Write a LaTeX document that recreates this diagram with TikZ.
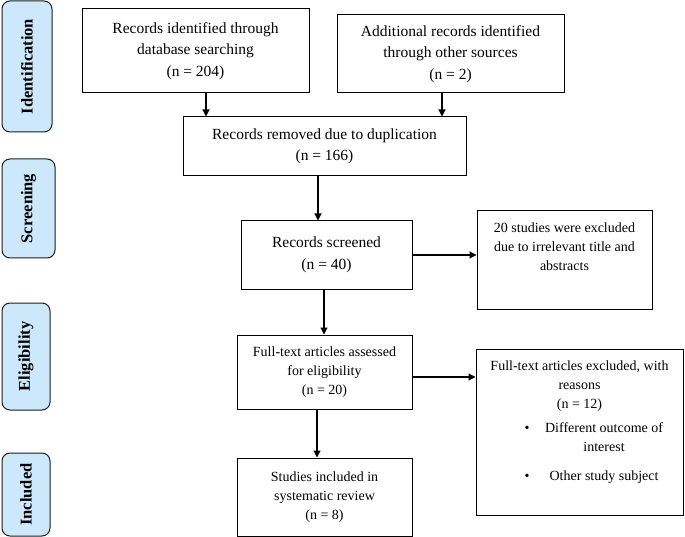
\documentclass[tikz,border=0pt]{standalone}
\usepackage{fontspec}
\setmainfont{Liberation Serif}
\usepackage{tikz}
\usetikzlibrary{positioning, arrows.meta, calc}
\definecolor{phaseblue}{HTML}{CDE8FB}
\definecolor{phaseline}{HTML}{1C1C1C}

\begin{document}
\begin{tikzpicture}[x=1pt, y=-1pt, >={Triangle[length=7pt,width=7pt]},
        phase/.style={draw=phaseline, fill=phaseblue, line width=1pt, rounded corners=8pt,
            inner sep=0pt, rotate=90, font=\fontsize{16.5}{18}\selectfont\bfseries},
        bigbox/.style={draw, line width=1pt, inner sep=0pt, align=center,
            font=\fontsize{15.5}{21.5}\selectfont},
        smallbox/.style={draw, line width=1pt, inner sep=0pt, align=center,
            font=\fontsize{14}{19}\selectfont},
        smalltext/.style={inner sep=0pt, align=center, font=\fontsize{14}{19}\selectfont},
        flow/.style={->, line width=1.2pt}]

        % Marco de la figura
        \useasboundingbox (0,0) rectangle (685,537);

        % Etiquetas de las fases (izquierda)
        \node[phase, minimum width=131, minimum height=50] (phase_ident) at (27,66.5) {Identification};
        \node[phase, minimum width=99, minimum height=53] (phase_screen) at (28.5,208.5) {Screening};
        \node[phase, minimum width=107, minimum height=48] (phase_elig) at (26,356.5) {Eligibility};
        \node[phase, minimum width=83, minimum height=48] (phase_incl) at (26,494.5) {Included};

        % Cajas de identificacion
        \node[bigbox, minimum width=227, minimum height=84] (box_ident) at (195.5,51)
            {Records identified through\\database searching\\(n = 204)};
        \node[bigbox, minimum width=227, minimum height=78] (box_other) at (450.5,54)
            {Additional records identified\\through other sources\\(n = 2)};
        \node[bigbox, minimum width=283, minimum height=59] (box_dup) at (324.5,146.5)
            {Records removed due to duplication\\(n = 166)};

        % Cribado
        \node[bigbox, minimum width=171, minimum height=68] (box_screen) at (326.5,255)
            {Records screened\\(n = 40)};
        \node[smallbox, minimum width=175, minimum height=98] (box_excl1) at (564.5,260) {};
        \node[smalltext, below=12.5pt of box_excl1.north] (excl1_text)
            {20 studies were excluded\\due to irrelevant title and\\abstracts};

        % Elegibilidad
        \node[smallbox, minimum width=175, minimum height=74] (box_full) at (324.5,372)
            {Full-text articles assessed\\for eligibility\\(n = 20)};
        \node[smallbox, minimum width=207, minimum height=166] (box_excl2) at (579.5,432) {};
        \node[smalltext, below=12.5pt of box_excl2.north] (excl2_head)
            {Full-text articles excluded, with\\reasons\\(n = 12)};
        \node[smalltext, anchor=north west] (excl2_list) at (524.5,419)
            {\begin{tabular}{@{}c@{\hspace{15.5pt}}c@{}}
                \textbullet & Different outcome of\\
                            & interest\\[10pt]
                \textbullet & Other study subject
            \end{tabular}};

        % Incluidos
        \node[smallbox, minimum width=175, minimum height=78] (box_incl) at (324.5,497)
            {Studies included in\\systematic review\\(n = 8)};

        % Puntos de salida de las flechas
        \coordinate (ident_out) at ([xshift=10.5pt]box_ident.south);
        \coordinate (other_out) at ([xshift=-8.5pt]box_other.south);
        \coordinate (dup_out) at ([xshift=-6.5pt]box_dup.south);
        \coordinate (screen_out) at ([xshift=-2.5pt]box_screen.south);
        \coordinate (full_side) at ([yshift=-5pt]box_full.east);
        \coordinate (full_out) at ([xshift=-7.5pt]box_full.south);

        % Flechas
        \draw[flow] (ident_out) -- (ident_out |- box_dup.north);
        \draw[flow] (other_out) -- (other_out |- box_dup.north);
        \draw[flow] (dup_out) -- (dup_out |- box_screen.north);
        \draw[flow] (box_screen.east) -- (box_screen.east -| box_excl1.west);
        \draw[flow] (screen_out) -- (screen_out |- box_full.north);
        \draw[flow] (full_side) -- (full_side -| box_excl2.west);
        \draw[flow] (full_out) -- (full_out |- box_incl.north);
\end{tikzpicture}
\end{document}
